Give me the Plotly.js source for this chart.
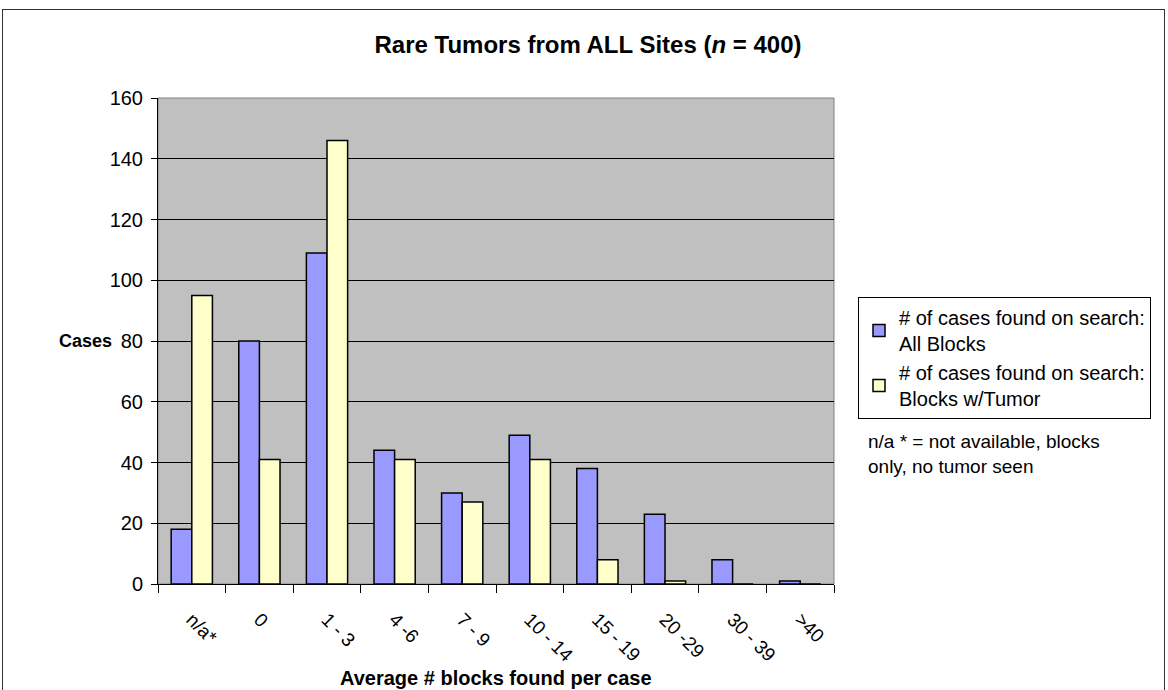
<!DOCTYPE html>
<html>
<head>
<meta charset="utf-8">
<script src="https://cdn.plot.ly/plotly-3.0.1.min.js"></script>
<style>
  html, body { margin: 0; padding: 0; background: #fff; }
  #chart { width: 1168px; height: 690px; position: relative; }
  #frame { position: absolute; left: 2px; top: 9px; width: 1163px; height: 700px;
           border: 1.5px solid #333; pointer-events: none; box-sizing: border-box; }
</style>
</head>
<body>
<div id="chart"></div>
<div id="frame"></div>
<script>
const categories = ["n/a*", "0", "1 - 3", "4 -6", "7 - 9", "10 - 14", "15 - 19", "20 -29", "30 - 39", ">40"];
const allBlocks = [18, 80, 109, 44, 30, 49, 38, 23, 8, 1];
const blocksWithTumor = [95, 41, 146, 41, 27, 41, 8, 1, 0, 0];
const seriesNames = ["# of cases found on search:<br>All Blocks", "# of cases found on search:<br>Blocks w/Tumor"];
const yTicks = [0, 20, 40, 60, 80, 100, 120, 140, 160];

const FONT = "Liberation Sans, Arial, sans-serif";

const traces = [
  { type: "bar", name: seriesNames[0], x: categories, y: allBlocks,
    marker: { color: "#9999FF", line: { color: "#000", width: 1.5 } } },
  { type: "bar", name: seriesNames[1], x: categories, y: blocksWithTumor,
    marker: { color: "#FFFFCC", line: { color: "#000", width: 1.5 } } }
];

const layout = {
  width: 1168, height: 690,
  margin: { l: 158, r: 334, t: 98, b: 106 },
  paper_bgcolor: "#fff",
  plot_bgcolor: "#C0C0C0",
  font: { family: FONT, color: "#000", size: 20 },
  barmode: "group",
  bargap: 0.39,
  bargroupgap: 0,
  title: { text: "<b>Rare Tumors from ALL Sites (<i>n</i> = 400)</b>",
           font: { family: FONT, size: 24, color: "#000" },
           x: 588 / 1168, xref: "container", xanchor: "center",
           y: 1 - 45 / 690, yref: "container", yanchor: "middle" },
  xaxis: {
    type: "category",
    tickangle: 45,
    ticks: "outside", ticklen: 8, tickcolor: "#000", tickwidth: 1,
    tickson: "boundaries",
    ticklabelstandoff: 16,
    showline: true, linecolor: "#000", linewidth: 1,
    showgrid: false,
    tickfont: { family: FONT, size: 19, color: "#000" },
    fixedrange: true
  },
  yaxis: {
    range: [0, 160],
    tickvals: yTicks,
    ticks: "outside", ticklen: 6, tickcolor: "#000",
    ticklabelstandoff: 4,
    showline: true, linecolor: "#000", linewidth: 1,
    showgrid: true, gridcolor: "#000", gridwidth: 1,
    zeroline: false,
    tickfont: { family: FONT, size: 20, color: "#000" },
    fixedrange: true
  },
  legend: {
    x: (858 - 158) / 676, xanchor: "left",
    y: (584 - 297) / 486, yanchor: "top",
    bgcolor: "#fff", bordercolor: "#000", borderwidth: 1,
    font: { family: FONT, size: 20, color: "#000" },
    tracegroupgap: 2,
    itemwidth: 30
  },
  shapes: [
    { type: "rect", xref: "paper", yref: "paper", x0: 0, x1: 1, y0: 0, y1: 1,
      line: { color: "#808080", width: 1 }, fillcolor: "rgba(0,0,0,0)", layer: "below" }
  ],
  annotations: [
    { text: "<b>Cases</b>", xref: "paper", yref: "paper",
      x: (114 - 158) / 676, y: (584 - 341) / 486, xanchor: "right", yanchor: "middle",
      showarrow: false, font: { family: FONT, size: 18, color: "#000" } },
    { text: "<b>Average # blocks found per case</b>", xref: "paper", yref: "paper",
      x: 0.5, y: (584 - 678) / 486, xanchor: "center", yanchor: "middle",
      showarrow: false, font: { family: FONT, size: 20, color: "#000" } },
    { text: "n/a * = not available, blocks<br>only, no tumor seen", xref: "paper", yref: "paper",
      x: (866 - 158) / 676, y: (584 - 429) / 486, xanchor: "left", yanchor: "top", align: "left",
      showarrow: false, font: { family: FONT, size: 19, color: "#000" } }
  ]
};

Plotly.newPlot("chart", traces, layout, { displayModeBar: false, staticPlot: true });
</script>
</body>
</html>
